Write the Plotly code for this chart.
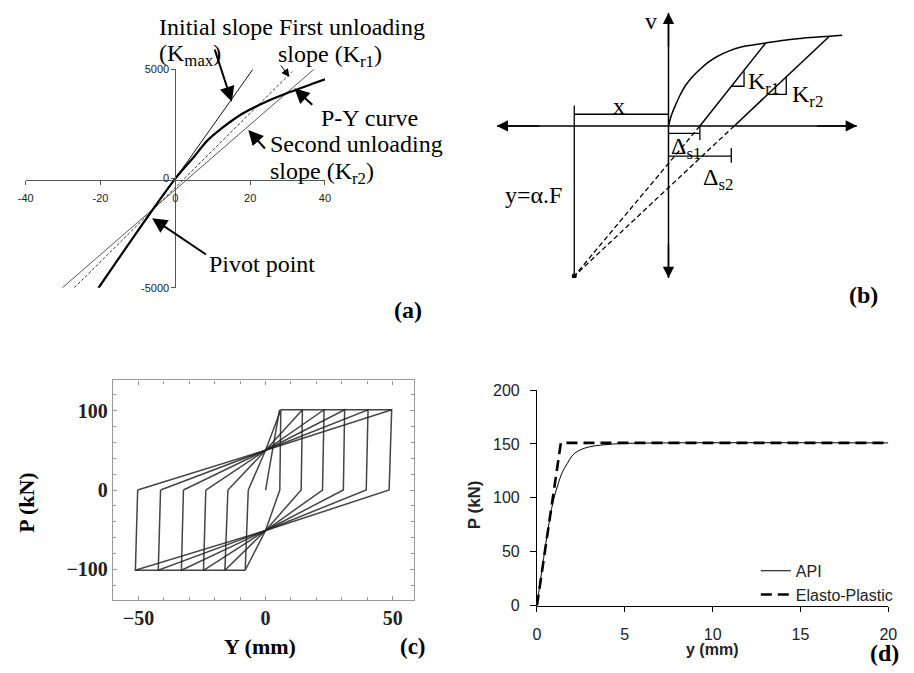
import plotly.graph_objects as go

W, H = 914, 673
def px(x): return x / W
def py(y): return 1 - y / H

SERIF = "Liberation Serif"
SANS = "Liberation Sans"

# ---------------- Panel (a) data ----------------
a_py_x = [-20.5, -7.6, 0, 5, 8.6, 12, 18, 24, 30.5, 36, 41]
a_py_y = [-5000, -1800, 0, 1000, 1750, 2250, 2980, 3500, 3950, 4300, 4600]
a_kmax_x = [-20.7, 20.7]
a_kmax_y = [-5000, 5000]
a_kr1_x = [-27, 31.2]
a_kr1_y = [-5000, 4900]
a_kr2_x = [-30.2, 37]
a_kr2_y = [-5000, 5000]
a_xticks = [-40, -20, 0, 20, 40]
a_xticktext = ["-40", "-20", "0", "20", "40"]
a_yticks = [-5000, 0, 5000]
a_yticktext = ["-5000", "0", "5000"]

# ---------------- Panel (b) schematic data ----------------
b_curve_x = [0, 3, 7, 12, 17, 24, 31, 40, 51, 62, 74, 86, 99, 118, 137, 164, 177]
b_curve_y = [0, 11, 21, 32, 41, 50, 57, 65, 72, 77, 81, 83, 85, 88, 90, 92, 93]
b_unload1_x = [99, 32]
b_unload1_y = [85, 0]
b_unload2_x = [164, 67]
b_unload2_y = [92, 0]
b_pivot = (-96, -154)
b_xaxis = [-175, 192]
b_yaxis = [-156, 116]

# ---------------- Panel (c) data ----------------
c_pos_peak = [6.0, 14.5, 23.0, 31.1, 40.3, 49.6]
c_pos_zero = [5.6, 14.0, 22.4, 30.6, 39.6, 48.6]
c_neg_peak = [-8.0, -16.0, -24.4, -33.1, -42.2, -51.2]
c_neg_zero = [-6.8, -14.8, -23.5, -32.3, -41.3, -50.3]
c_pmax = 101
c_pmin = -101
c_piv_up = 50
c_piv_dn = -51
c_virgin_x = [0, 5.5]
c_virgin_y = [0, 101]

# ---------------- Panel (d) data ----------------
d_api_x = [0, 0.3, 0.61, 0.9, 1.17, 1.45, 1.73, 2.0, 2.29, 2.7, 3.2, 4.1, 5, 20]
d_api_p = [0, 35, 69, 95, 111, 124, 132, 139, 143, 146, 148, 149.6, 150.5, 151]
d_ep_x = [0, 1.36, 20]
d_ep_p = [0, 151, 151]

fig = go.Figure()

# ----- (a) traces -----
fig.add_trace(go.Scatter(x=a_kmax_x, y=a_kmax_y, mode="lines", line=dict(color="#111", width=1),
                         xaxis="x", yaxis="y", showlegend=False))
fig.add_trace(go.Scatter(x=a_kr2_x, y=a_kr2_y, mode="lines", line=dict(color="#555", width=1),
                         xaxis="x", yaxis="y", showlegend=False))
fig.add_trace(go.Scatter(x=a_kr1_x, y=a_kr1_y, mode="lines", line=dict(color="#333", width=1, dash="3px,2px"),
                         xaxis="x", yaxis="y", showlegend=False))
fig.add_trace(go.Scatter(x=a_py_x, y=a_py_y, mode="lines", line=dict(color="#000", width=2.2, shape="spline"),
                         xaxis="x", yaxis="y", showlegend=False))

# ----- (b) traces -----
bk = dict(color="#000", width=1.5)
fig.add_trace(go.Scatter(x=b_xaxis, y=[0, 0], mode="lines", line=bk, xaxis="x2", yaxis="y2", showlegend=False))
fig.add_trace(go.Scatter(x=[0, 0], y=b_yaxis, mode="lines", line=bk, xaxis="x2", yaxis="y2", showlegend=False))
fig.add_trace(go.Scatter(x=b_curve_x, y=b_curve_y, mode="lines", line=dict(color="#000", width=1.5, shape="spline"),
                         xaxis="x2", yaxis="y2", showlegend=False))
fig.add_trace(go.Scatter(x=b_unload1_x + [None] + b_unload2_x, y=b_unload1_y + [None] + b_unload2_y,
                         mode="lines", line=bk, xaxis="x2", yaxis="y2", showlegend=False))
fig.add_trace(go.Scatter(x=[b_unload1_x[1], b_pivot[0], None, b_unload2_x[1], b_pivot[0]],
                         y=[0, b_pivot[1], None, 0, b_pivot[1]], mode="lines",
                         line=dict(color="#000", width=1.3, dash="5px,3px"),
                         xaxis="x2", yaxis="y2", showlegend=False))
# dimension lines and slope notches
b_dim_x = [-96, -96, None, -96, 0, None, 0, 32, None, 32, 32, None, 0, 64, None, 64, 64,
           None, 64, 77, 77, None, 101, 120, 120]
b_dim_y = [21, -154, None, 12, 12, None, -7.7, -7.7, None, 0, -14.3, None, -31, -31, None, -22.7, -37.7,
           None, 40.7, 40.7, 56, None, 32.3, 32.3, 51]
fig.add_trace(go.Scatter(x=b_dim_x, y=b_dim_y, mode="lines", line=dict(color="#000", width=1.3),
                         xaxis="x2", yaxis="y2", showlegend=False))
fig.add_trace(go.Scatter(x=[b_pivot[0]], y=[b_pivot[1]], mode="markers", marker=dict(color="#000", size=5),
                         xaxis="x2", yaxis="y2", showlegend=False))

# ----- (c) traces -----
cx, cy = [], []
for k in range(len(c_pos_peak)):
    cx += [c_neg_zero[k], 0, c_pos_peak[k], c_pos_zero[k], 0, c_neg_peak[k], c_neg_zero[k], None]
    cy += [0, c_piv_up, c_pmax, 0, c_piv_dn, c_pmin, 0, None]
cx += [c_pos_peak[0], c_pos_peak[-1], None, c_neg_peak[-1], c_neg_peak[0], None] + c_virgin_x
cy += [c_pmax, c_pmax, None, c_pmin, c_pmin, None] + c_virgin_y
fig.add_trace(go.Scatter(x=cx, y=cy, mode="lines", line=dict(color="rgba(35,35,35,0.85)", width=1.5),
                         xaxis="x3", yaxis="y3", showlegend=False))

# ----- (d) traces -----
fig.add_trace(go.Scatter(x=d_api_x, y=d_api_p, mode="lines", name="API",
                         line=dict(color="#000", width=1, shape="spline"), xaxis="x4", yaxis="y4"))
fig.add_trace(go.Scatter(x=d_ep_x, y=d_ep_p, mode="lines", name="Elasto-Plastic",
                         line=dict(color="#000", width=2.6, dash="11px,6px"), xaxis="x4", yaxis="y4"))

ann = []
def text(x, y, s, size=24, bold=False, family=SERIF, xanchor="center", angle=0, xref="paper", yref="paper", color="#000"):
    if xref == "paper":
        x, y = px(x), py(y)
    ann.append(dict(x=x, y=y, xref=xref, yref=yref, text=(f"<b>{s}</b>" if bold else s), showarrow=False,
                    xanchor=xanchor, yanchor="middle", textangle=angle,
                    font=dict(family=family, size=size, color=color)))

def arrow(hx, hy, tx, ty, xr, yr, width=2, size=1.5, head=2):
    ann.append(dict(x=hx, y=hy, ax=tx, ay=ty, xref=xr, yref=yr, axref=xr, ayref=yr, text="",
                    showarrow=True, arrowhead=head, arrowwidth=width, arrowsize=size, arrowcolor="#000"))

# (a) annotations
text(152, 20, "Initial slope First unloading", xanchor="left")
text(152, 48, "(K<sub>max</sub>)", xanchor="left")
text(273, 49, "slope (K<sub>r1</sub>)", xanchor="left")
text(317, 113, "P-Y curve", xanchor="left")
text(265, 140, "Second unloading", xanchor="left")
text(265, 169, "slope (K<sub>r2</sub>)", xanchor="left")
text(203, 263, "Pivot point", xanchor="left")
text(408, 310, "(a)", bold=True)
arrow(15.1, 3523, 10.4, 5976, "x", "y")
arrow(30.5, 4652, 27.9, 5250, "x", "y", width=1, size=1.6)
arrow(31.8, 4135, 37.0, 3314, "x", "y")
arrow(19.5, 2230, 24.3, 1307, "x", "y")
arrow(-6.2, -1815, 8.6, -3523, "x", "y")

# (b) annotations
arrow(b_xaxis[1], 0, 150, 0, "x2", "y2", width=1.5, size=1.5)
arrow(b_xaxis[0], 0, -130, 0, "x2", "y2", width=1.5, size=1.5)
arrow(0, b_yaxis[1], 0, 80, "x2", "y2", width=1.5, size=1.5)
arrow(0, b_yaxis[0], 0, -120, "x2", "y2", width=1.5, size=1.5)
text(-18, 108, "v", size=24, xref="x2", yref="y2")
text(203, 0, "x", size=24, xref="x2", yref="y2")
text(-50, 20, "x", size=24, xref="x2", yref="y2")
text(79, 44, "K<sub>r1</sub>", size=24, xref="x2", yref="y2", xanchor="left")
text(124, 31, "K<sub>r2</sub>", size=24, xref="x2", yref="y2", xanchor="left")
text(18, -23, "Δ<sub>s1</sub>", size=24, xref="x2", yref="y2")
text(50, -54, "Δ<sub>s2</sub>", size=24, xref="x2", yref="y2")
text(-138, -71, "y=α.F", size=24, xref="x2", yref="y2")
text(-80, -171, "Pivot point", size=24, xref="x2", yref="y2")
text(872, 294, "(b)", bold=True)

# (c) annotations
text(19, 507, "P (kN)", size=22, bold=True, angle=-90)
text(257, 655, "Y (mm)", size=22, bold=True)
text(413, 655, "(c)", size=23, bold=True)

# (d) annotations
text(475, 510, "P (kN)", size=17, bold=True, family=SANS, angle=-90, color="#222")
text(717, 658, "y (mm)", size=16, bold=True, family=SANS, color="#222")
text(893, 662, "(d)", size=24, bold=True)

fig.update_layout(
    width=W, height=H, margin=dict(l=0, r=0, t=0, b=0),
    paper_bgcolor="white", plot_bgcolor="rgba(0,0,0,0)",
    annotations=ann,
    showlegend=True,
    legend=dict(x=px(762), y=py(560), xanchor="left", yanchor="top", bgcolor="rgba(0,0,0,0)",
                font=dict(family=SANS, size=16, color="#222"), tracegroupgap=2),
    # (a)
    xaxis=dict(domain=[px(18), px(323)], range=[-40, 40], anchor="free", position=py(176),
               showline=True, linecolor="#555", linewidth=1, ticks="outside", ticklen=4, tickcolor="#555",
               tickvals=a_xticks, ticktext=a_xticktext, showgrid=False, zeroline=False,
               tickfont=dict(family=SANS, size=11, color="#222"), ticklabelstandoff=4),
    yaxis=dict(domain=[py(287), py(63)], range=[-5000, 5000], anchor="free", position=px(170.5),
               showline=True, linecolor="#555", linewidth=1, ticks="outside", ticklen=4, tickcolor="#555",
               tickvals=a_yticks, ticktext=a_yticktext, showgrid=False, zeroline=False,
               tickfont=dict(family=SANS, size=11, color="#222")),
    # (b)
    xaxis2=dict(domain=[px(498), px(865)], range=[-175, 192], visible=False, anchor="y2"),
    yaxis2=dict(domain=[py(277), py(5)], range=[-156, 116], visible=False, anchor="x2"),
    # (c)
    xaxis3=dict(domain=[px(107), px(414)], range=[-60, 58.5], anchor="y3", showline=True, mirror="allticks",
                linecolor="#999", linewidth=1.3, ticks="inside", ticklen=4, tickcolor="#999",
                tick0=0, dtick=50, showgrid=False, zeroline=False,
                minor=dict(dtick=10, tick0=0, ticks="inside", ticklen=3, tickcolor="#999"),
                tickfont=dict(family=SERIF, size=20, color="#222", weight="bold")),
    yaxis3=dict(domain=[py(607), py(382)], range=[-138, 138], anchor="x3", showline=True, mirror="allticks",
                linecolor="#999", linewidth=1.3, ticks="inside", ticklen=4, tickcolor="#999",
                tick0=0, dtick=100, showgrid=False, zeroline=False,
                minor=dict(dtick=20, tick0=0, ticks="inside", ticklen=3, tickcolor="#999"),
                tickfont=dict(family=SERIF, size=20, color="#222", weight="bold")),
    # (d)
    xaxis4=dict(domain=[px(539), px(897)], range=[0, 20], anchor="y4", showline=True, linecolor="#000",
                linewidth=1, ticks="outside", ticklen=5, tickcolor="#000", dtick=5, tick0=0,
                showgrid=False, zeroline=False, ticklabelstandoff=9,
                tickfont=dict(family=SANS, size=16, color="#222")),
    yaxis4=dict(domain=[py(613), py(392)], range=[0, 200], anchor="x4", showline=True, linecolor="#000",
                linewidth=1, ticks="outside", ticklen=6, tickcolor="#000", dtick=50, tick0=0,
                showgrid=False, zeroline=False, ticklabelstandoff=7,
                tickfont=dict(family=SANS, size=16, color="#222")),
)

fig.write_html("out.html")
